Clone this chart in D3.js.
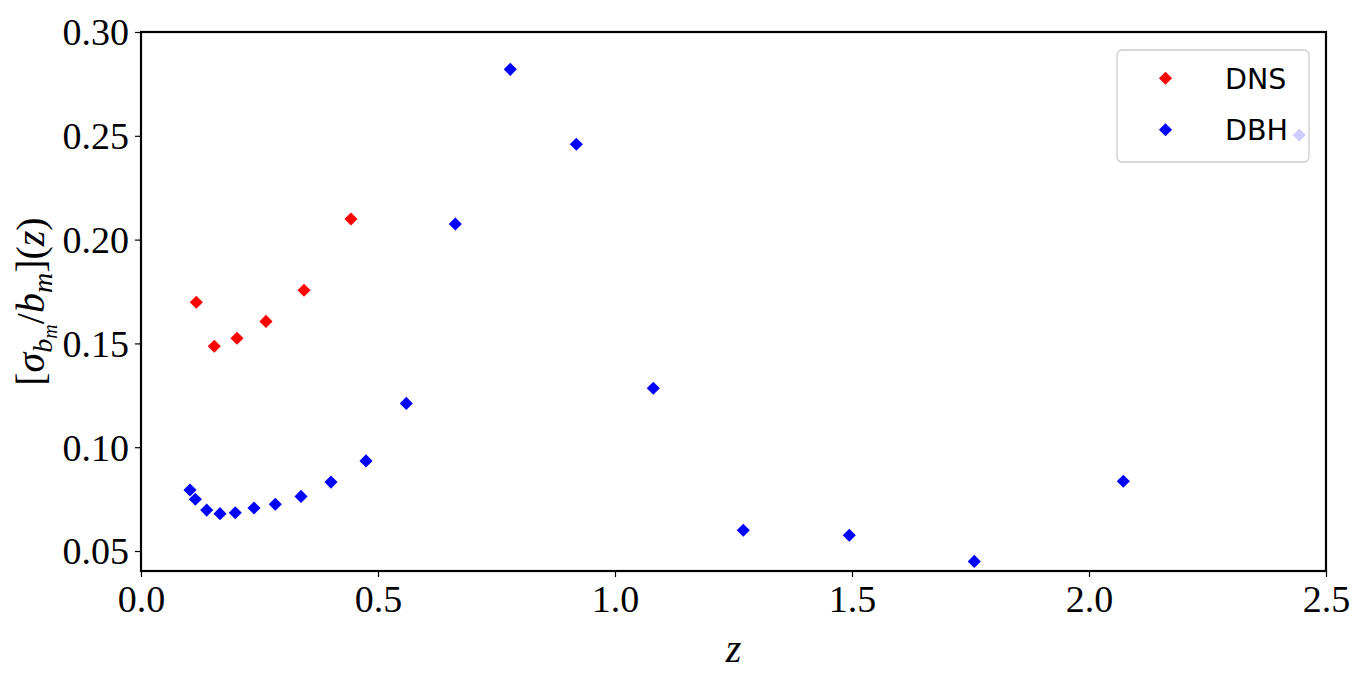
<!DOCTYPE html>
<html>
<head>
<meta charset="utf-8">
<script src="https://cdn.jsdelivr.net/npm/d3@7"></script>
<style>
  html, body { margin: 0; padding: 0; background: #fff; }
  svg { display: block; }
</style>
</head>
<body>
<svg id="chart" width="1366" height="685"></svg>
<script>
// ---- data ----
const dnsZ = [0.1167, 0.1546, 0.2025, 0.2637, 0.3439, 0.4430];
const dnsV = [0.1698, 0.1486, 0.1525, 0.1606, 0.1756, 0.2099];

const dbhZ = [0.1034, 0.1146, 0.1386, 0.1667, 0.1989, 0.2384, 0.2833, 0.3376, 0.4008, 0.4747,
              0.5597, 0.6631, 0.7791, 0.9184, 1.0808, 1.2707, 1.4943, 1.7580, 2.0724, 2.4437];
const dbhV = [0.0794, 0.0749, 0.0697, 0.0680, 0.0684, 0.0707, 0.0725, 0.0763, 0.0832, 0.0934,
              0.1211, 0.2075, 0.2820, 0.2459, 0.1284, 0.0600, 0.0576, 0.0450, 0.0836, 0.2504];

const xTicks = [0.0, 0.5, 1.0, 1.5, 2.0, 2.5];
const yTicks = [0.05, 0.10, 0.15, 0.20, 0.25, 0.30];
const seriesNames = ["DNS", "DBH"];
const seriesColors = ["#ff0000", "#0000ff"];

// ---- layout ----
const svg = d3.select("#chart");
const L = 141, R = 1326, T = 32, B = 571;
const x = d3.scaleLinear().domain([0, 2.5]).range([L, R]);
const y = d3.scaleLinear().domain([0.04037, 0.30]).range([B, T]);

const tickFont = "'Liberation Serif', 'DejaVu Serif', serif";

// x axis
const xAxis = svg.append("g").attr("transform", `translate(0,${B})`)
  .call(d3.axisBottom(x).tickValues(xTicks).tickFormat(d3.format(".1f")).tickSize(6).tickPadding(8));
xAxis.select(".domain").remove();
xAxis.selectAll("line").attr("stroke", "#000").attr("stroke-width", 1.2);
xAxis.selectAll("text").attr("font-family", tickFont).attr("font-size", 38).attr("fill", "#000")
  .attr("dy", "0.72em");

// y axis
const yAxis = svg.append("g").attr("transform", `translate(${L},0)`)
  .call(d3.axisLeft(y).tickValues(yTicks).tickFormat(d3.format(".2f")).tickSize(6).tickPadding(6));
yAxis.select(".domain").remove();
yAxis.selectAll("line").attr("stroke", "#000").attr("stroke-width", 1.2);
yAxis.selectAll("text").attr("font-family", tickFont).attr("font-size", 38).attr("fill", "#000")
  .attr("dy", "0.34em");

// markers
const diamond = d3.symbol().type(d3.symbolSquare).size(86);
function drawSeries(zs, vs, color) {
  svg.append("g").selectAll("path")
    .data(zs.map((z, i) => [z, vs[i]]))
    .join("path")
    .attr("d", diamond)
    .attr("fill", color)
    .attr("transform", d => `translate(${x(d[0])},${y(d[1])}) rotate(45)`);
}
drawSeries(dnsZ, dnsV, seriesColors[0]);
drawSeries(dbhZ, dbhV, seriesColors[1]);

// frame
svg.append("rect").attr("x", L).attr("y", T).attr("width", R - L).attr("height", B - T)
  .attr("fill", "none").attr("stroke", "#000").attr("stroke-width", 2.2);

// legend
const lg = svg.append("g");
lg.append("rect").attr("x", 1117).attr("y", 50).attr("width", 192).attr("height", 112)
  .attr("rx", 5).attr("ry", 5)
  .attr("fill", "#fff").attr("fill-opacity", 0.8)
  .attr("stroke", "#cccccc").attr("stroke-width", 1.3);
seriesNames.forEach((name, i) => {
  const cy = 78.3 + i * 51.5;
  lg.append("path").attr("d", diamond).attr("fill", seriesColors[i])
    .attr("transform", `translate(1165.5,${cy}) rotate(45)`);
  lg.append("text").attr("x", 1225).attr("y", cy + 10.5)
    .attr("font-family", "'DejaVu Sans', sans-serif").attr("font-size", 28.5)
    .attr("fill", "#000").text(name);
});

// x label
svg.append("text").attr("x", (L + R) / 2).attr("y", 662)
  .attr("text-anchor", "middle")
  .attr("font-family", tickFont).attr("font-style", "italic").attr("font-size", 40)
  .text("z");

// y label: [σ_{b_m}/b_m](z)
const yl = svg.append("text")
  .attr("transform", `translate(44,${(T + B) / 2}) rotate(-90)`)
  .attr("text-anchor", "middle")
  .attr("font-family", tickFont).attr("font-size", 40).attr("fill", "#000");
yl.append("tspan").text("[");
yl.append("tspan").attr("font-style", "italic").text("σ");
yl.append("tspan").attr("font-style", "italic").attr("font-size", 28).attr("dy", 8).text("b");
yl.append("tspan").attr("font-style", "italic").attr("font-size", 20).attr("dy", 5).text("m");
yl.append("tspan").attr("dy", -13).text("/");
yl.append("tspan").attr("font-style", "italic").text("b");
yl.append("tspan").attr("font-style", "italic").attr("font-size", 28).attr("dy", 8).text("m");
yl.append("tspan").attr("dy", -8).text("](");
yl.append("tspan").attr("font-style", "italic").text("z");
yl.append("tspan").text(")");
</script>
</body>
</html>
